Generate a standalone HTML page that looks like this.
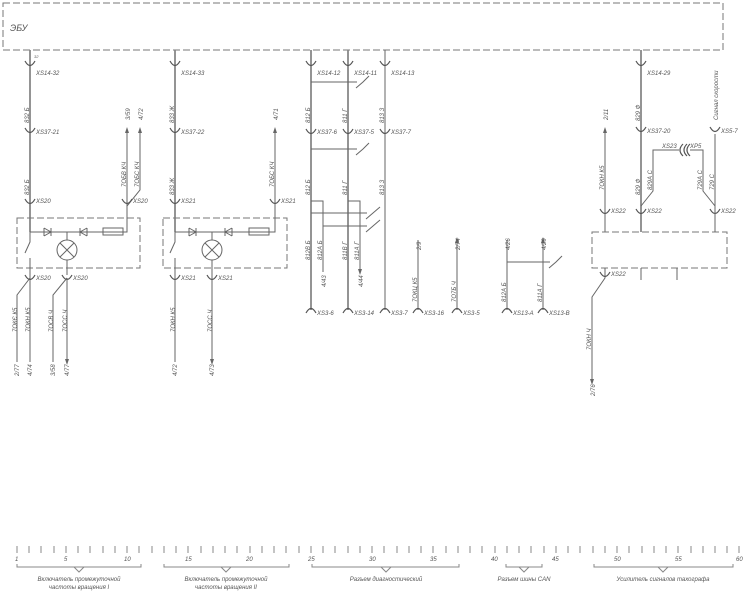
<!DOCTYPE html>
<html><head><meta charset="utf-8"><style>
html,body{margin:0;padding:0;background:#fff}
svg{display:block}
text{font-family:"Liberation Sans",sans-serif;font-style:italic;fill:#555;font-size:6px}
.l{stroke:#666;stroke-width:1;fill:none}
.t{stroke:#888;stroke-width:1.8;fill:none}
.d{stroke:#777;stroke-width:1;fill:none;stroke-dasharray:7,3}
.c{stroke:#555;stroke-width:1.2;fill:none}
</style></head><body>
<svg width="750" height="598" viewBox="0 0 750 598" xmlns="http://www.w3.org/2000/svg">
<defs>
<marker id="a" markerWidth="6" markerHeight="6" refX="3" refY="3" orient="auto"><path d="M0,1 L6,3 L0,5z" fill="#666"/></marker>
</defs>
<rect x="3" y="3" width="720" height="47" class="d"/>
<text x="10" y="31" style="font-size:9px">ЭБУ</text>

<!-- ===== Column 1 ===== -->
<path class="t" d="M30 50 V232"/>
<path class="c" d="M25 61 Q30 70 35 61 M25 128 Q30 137 35 128 M25 199 Q30 208 35 199"/>
<text x="36" y="75">XS14-32</text><text x="36" y="134">XS37-21</text><text x="36" y="203">XS20</text>
<text x="34" y="58" style="font-size:4px">32</text>
<text transform="translate(29,123) rotate(-90)">832  Б</text>
<text transform="translate(29,195) rotate(-90)">832  Б</text>
<rect x="17" y="218" width="123" height="50" class="d"/>
<path class="l" d="M30 232 H127 V206"/>
<path class="l" d="M44 228 V236 M44 228 L51 232 L44 236 M51 228 V236"/>
<path class="l" d="M80 228 V236 M87 228 L80 232 L87 236 M87 228 V236"/>
<rect x="103" y="228" width="20" height="7" class="l"/>
<path class="l" d="M67 232 V240 M67 260 V275"/>
<circle cx="67" cy="250" r="10" class="l"/><path class="l" d="M60 243 L74 257 M74 243 L60 257"/>
<path class="l" d="M30 232 V242 L25 253 M30 258 V360"/>
<path class="l" d="M127 206 V130" marker-end="url(#a)"/>
<path class="l" d="M127 206 L140 190 V130" marker-end="url(#a)"/>
<path class="c" d="M122 199 Q127 208 132 199"/>
<text x="133" y="203">XS20</text>
<text transform="translate(126,187) rotate(-90)">7ОБВ  КЧ</text>
<text transform="translate(139,187) rotate(-90)">7ОБС  КЧ</text>
<text transform="translate(130,120) rotate(-90)">3/59</text>
<text transform="translate(143,120) rotate(-90)">4/72</text>
<path class="c" d="M25 275 Q30 284 35 275 M62 275 Q67 284 72 275"/>
<text x="36" y="280">XS20</text><text x="73" y="280">XS20</text>
<path class="l" d="M30 278 L17 295 V360 M67 278 L53 295 V360 M67 278 V360"/>
<path class="l" d="M17 340 V362 M30 340 V362 M53 340 V362 M67 340 V362" marker-end="url(#a)"/>
<text transform="translate(17,332) rotate(-90)">7ОКЄ  К5</text>
<text transform="translate(30,332) rotate(-90)">7ОКН  К5</text>
<text transform="translate(53,332) rotate(-90)">7ОСВ  Ч</text>
<text transform="translate(67,332) rotate(-90)">7ОСС  Ч</text>
<text transform="translate(19,376) rotate(-90)">2/77</text>
<text transform="translate(32,376) rotate(-90)">4/74</text>
<text transform="translate(55,376) rotate(-90)">3/58</text>
<text transform="translate(69,376) rotate(-90)">4/77</text>

<!-- ===== Column 2 ===== -->
<path class="t" d="M175 50 V232"/>
<path class="c" d="M170 61 Q175 70 180 61 M170 128 Q175 137 180 128 M170 199 Q175 208 180 199"/>
<text x="181" y="75">XS14-33</text><text x="181" y="134">XS37-22</text><text x="181" y="203">XS21</text>
<text transform="translate(174,123) rotate(-90)">833  Ж</text>
<text transform="translate(174,195) rotate(-90)">833  Ж</text>
<rect x="163" y="218" width="124" height="50" class="d"/>
<path class="l" d="M175 232 H275 V130" marker-end="url(#a)"/>
<path class="l" d="M189 228 V236 M189 228 L196 232 L189 236 M196 228 V236"/>
<path class="l" d="M225 228 V236 M232 228 L225 232 L232 236 M232 228 V236"/>
<rect x="249" y="228" width="20" height="7" class="l"/>
<path class="l" d="M212 232 V240 M212 260 V360"/>
<circle cx="212" cy="250" r="10" class="l"/><path class="l" d="M205 243 L219 257 M219 243 L205 257"/>
<path class="l" d="M175 232 V242 L170 253 M175 258 V360"/>
<path class="c" d="M270 199 Q275 208 280 199"/><text x="281" y="203">XS21</text>
<text transform="translate(274,187) rotate(-90)">7ОБС  КЧ</text>
<text transform="translate(278,120) rotate(-90)">4/71</text>
<path class="c" d="M170 275 Q175 284 180 275 M207 275 Q212 284 217 275"/>
<text x="181" y="280">XS21</text><text x="218" y="280">XS21</text>
<path class="l" d="M175 340 V362 M212 340 V362" marker-end="url(#a)"/>
<text transform="translate(175,332) rotate(-90)">7ОКН  К5</text>
<text transform="translate(212,332) rotate(-90)">7ОСС  Ч</text>
<text transform="translate(177,376) rotate(-90)">4/72</text>
<text transform="translate(214,376) rotate(-90)">4/73</text>

<!-- ===== Column 3 ===== -->
<path class="t" d="M311 50 V310 M348 50 V310"/>
<path class="l" d="M385 50 V310"/>
<path class="c" d="M306 61 Q311 70 316 61 M343 61 Q348 70 353 61 M380 61 Q385 70 390 61"/>
<path class="c" d="M306 129 Q311 138 316 129 M343 129 Q348 138 353 129 M380 129 Q385 138 390 129"/>
<text x="317" y="75">XS14-12</text><text x="354" y="75">XS14-11</text><text x="391" y="75">XS14-13</text>
<text x="317" y="134">XS37-6</text><text x="354" y="134">XS37-5</text><text x="391" y="134">XS37-7</text>
<path class="l" d="M311 82 H357 M356 88 L363 82 L369 76"/>
<path class="l" d="M311 149 H357 M356 155 L363 149 L369 143"/>
<path class="l" d="M311 201 H323 V270 M348 201 H360 V270"/>
<path class="l" d="M323 260 V272 M360 260 V272" marker-end="url(#a)"/>
<path class="l" d="M311 213 H367 M366 219 L373 213 L380 207"/>
<path class="l" d="M323 226 H367 M366 232 L373 226 L380 220"/>
<text transform="translate(310,123) rotate(-90)">812  Б</text>
<text transform="translate(347,123) rotate(-90)">811  Г</text>
<text transform="translate(384,123) rotate(-90)">813  З</text>
<text transform="translate(310,195) rotate(-90)">812  Б</text>
<text transform="translate(347,195) rotate(-90)">811  Г</text>
<text transform="translate(384,195) rotate(-90)">813  З</text>
<text transform="translate(310,260) rotate(-90)">812В  Б</text>
<text transform="translate(322,260) rotate(-90)">812А  Б</text>
<text transform="translate(347,260) rotate(-90)">811В  Г</text>
<text transform="translate(359,260) rotate(-90)">811А  Г</text>
<text transform="translate(326,287) rotate(-90)">4/43</text>
<text transform="translate(363,287) rotate(-90)">4/44</text>
<path class="c" d="M306 313 Q311 304 316 313 M343 313 Q348 304 353 313 M380 313 Q385 304 390 313"/>
<text x="317" y="315">XS3-6</text><text x="354" y="315">XS3-14</text><text x="391" y="315">XS3-7</text>
<path class="l" d="M418 310 V240 M457 310 V240" marker-end="url(#a)"/>
<path class="c" d="M413 313 Q418 304 423 313 M452 313 Q457 304 462 313"/>
<text x="424" y="315">XS3-16</text><text x="463" y="315">XS3-5</text>
<text transform="translate(417,302) rotate(-90)">7ОКЦ  К5</text>
<text transform="translate(456,302) rotate(-90)">7О7Б  Ч</text>
<text transform="translate(421,250) rotate(-90)">2/9</text>
<text transform="translate(460,250) rotate(-90)">2/74</text>
<path class="l" d="M507 310 V240 M543 310 V240" marker-end="url(#a)"/>
<path class="l" d="M507 262 H550 M549 268 L556 262 L562 256"/>
<path class="c" d="M502 313 Q507 304 512 313 M538 313 Q543 304 548 313"/>
<text x="513" y="315">XS13-А</text><text x="549" y="315">XS13-В</text>
<text transform="translate(506,302) rotate(-90)">812А  Б</text>
<text transform="translate(542,302) rotate(-90)">811А  Г</text>
<text transform="translate(510,250) rotate(-90)">4/26</text>
<text transform="translate(546,250) rotate(-90)">4/29</text>

<!-- ===== Column 4 ===== -->
<path class="t" d="M641 50 V232"/>
<path class="c" d="M636 61 Q641 70 646 61 M636 127 Q641 136 646 127"/>
<text x="647" y="75">XS14-29</text><text x="647" y="133">XS37-20</text>
<text transform="translate(640,121) rotate(-90)">829  Ф</text>
<text transform="translate(640,195) rotate(-90)">829  Ф</text>
<path class="l" d="M715 134 V206 L703 191 V150 H690 M679 150 H653 V191 L641 206"/>
<path class="c" d="M710 127 Q715 136 720 127"/><text x="721" y="133">XS5-7</text>
<text transform="translate(718,120) rotate(-90)">Сигнал скорости</text>
<path class="c" d="M683 144 Q677 150 683 156 M687 144 Q681 150 687 156 M690 144 Q684 150 690 156"/>
<text x="662" y="148">XS23</text><text x="690" y="148">XP5</text>
<text transform="translate(652,190) rotate(-90)">829А  С</text>
<text transform="translate(702,190) rotate(-90)">729А  С</text>
<text transform="translate(714,190) rotate(-90)">729  С</text>
<path class="l" d="M605 232 V130" marker-end="url(#a)"/>
<text transform="translate(608,120) rotate(-90)">2/11</text>
<text transform="translate(604,190) rotate(-90)">7ОКН  К5</text>
<path class="c" d="M600 209 Q605 218 610 209 M636 209 Q641 218 646 209 M710 209 Q715 218 720 209"/>
<text x="611" y="213">XS22</text><text x="647" y="213">XS22</text><text x="721" y="213">XS22</text>
<rect x="592" y="232" width="135" height="36" class="d"/>
<path class="l" d="M715 206 V232 M641 268 V280 M677 268 V280 M605 268 V278 L592 297 V380" />
<path class="l" d="M592 360 V382" marker-end="url(#a)"/>
<path class="c" d="M600 272 Q605 281 610 272"/><text x="611" y="276">XS22</text>
<text transform="translate(591,350) rotate(-90)">7ОКН  Ч</text>
<text transform="translate(595,396) rotate(-90)">2/76</text>

<!-- ===== Ruler ===== -->
<g class="l" style="stroke:#888">
<path d="M17 546 V553 M29 546 V553 M41 546 V553 M54 546 V553 M66 546 V553 M78 546 V553 M90 546 V553 M103 546 V553 M115 546 V553 M127 546 V553 M139 546 V553 M152 546 V553 M164 546 V553 M176 546 V553 M188 546 V553 M201 546 V553 M213 546 V553 M225 546 V553 M237 546 V553 M250 546 V553 M262 546 V553 M274 546 V553 M286 546 V553 M299 546 V553 M311 546 V553 M323 546 V553 M335 546 V553 M348 546 V553 M360 546 V553 M372 546 V553 M384 546 V553 M397 546 V553 M409 546 V553 M421 546 V553 M433 546 V553 M446 546 V553 M458 546 V553 M470 546 V553 M482 546 V553 M495 546 V553 M507 546 V553 M519 546 V553 M531 546 V553 M544 546 V553 M556 546 V553 M568 546 V553 M580 546 V553 M593 546 V553 M605 546 V553 M617 546 V553 M629 546 V553 M642 546 V553 M654 546 V553 M666 546 V553 M678 546 V553 M691 546 V553 M703 546 V553 M715 546 V553 M727 546 V553 M739 546 V553"/>
<path d="M17 564 V567 H141 V564 M74 567 L79 572 L84 567"/>
<path d="M164 564 V567 H289 V564 M221 567 L226 572 L231 567"/>
<path d="M312 564 V567 H459 V564 M381 567 L386 572 L391 567"/>
<path d="M506 564 V567 H542 V564 M519 567 L524 572 L529 567"/>
<path d="M594 564 V567 H733 V564 M658 567 L663 572 L668 567"/>
</g>
<g style="font-size:6.5px">
<text x="15" y="561">1</text><text x="64" y="561">5</text><text x="124" y="561">10</text><text x="185" y="561">15</text><text x="246" y="561">20</text><text x="308" y="561">25</text><text x="369" y="561">30</text><text x="430" y="561">35</text><text x="491" y="561">40</text><text x="552" y="561">45</text><text x="614" y="561">50</text><text x="675" y="561">55</text><text x="736" y="561">60</text>
</g>
<g style="font-size:5.5px" text-anchor="middle">
<text x="79" y="581">Включатель промежуточной</text><text x="79" y="589">частоты вращения I</text>
<text x="226" y="581">Включатель промежуточной</text><text x="226" y="589">частоты вращения II</text>
<text x="386" y="581">Разъем диагностический</text>
<text x="524" y="581">Разъем шины CAN</text>
<text x="663" y="581">Усилитель сигналов тахографа</text>
</g>
</svg>
</body></html>
